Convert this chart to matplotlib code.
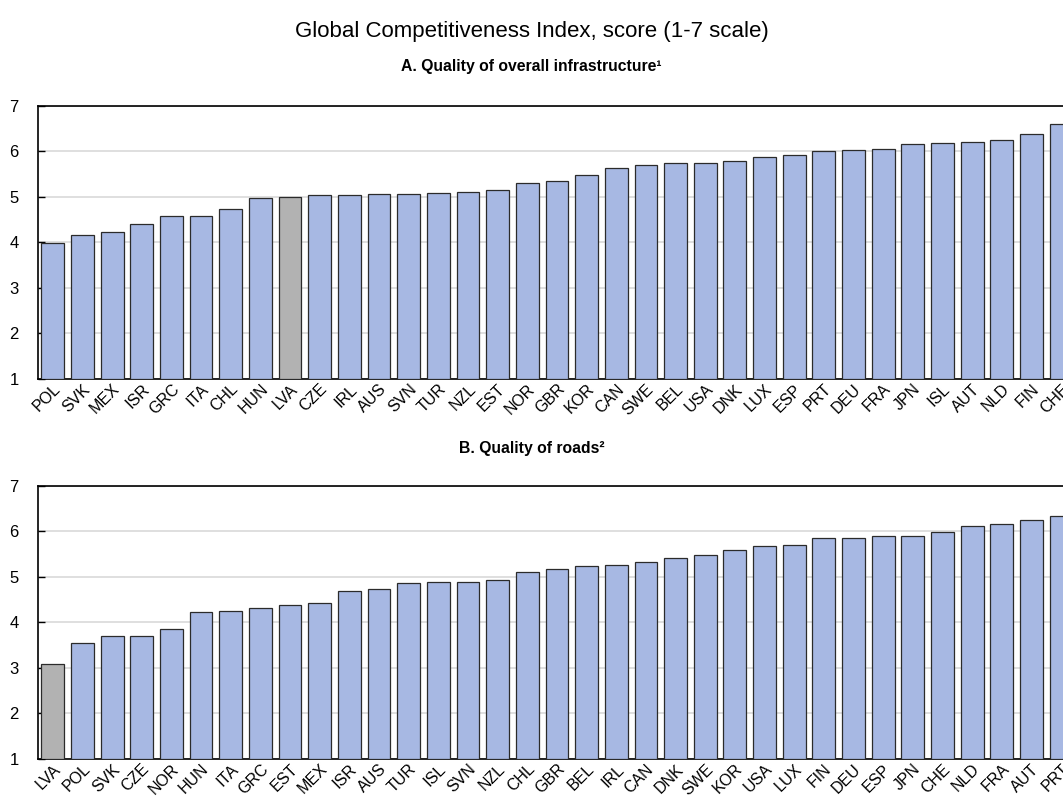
import matplotlib
matplotlib.use("Agg")
import matplotlib.pyplot as plt

plt.rcParams['font.family'] = ['Liberation Sans', 'DejaVu Sans']

countries_a = ["POL", "SVK", "MEX", "ISR", "GRC", "ITA", "CHL", "HUN", "LVA", "CZE",
               "IRL", "AUS", "SVN", "TUR", "NZL", "EST", "NOR", "GBR", "KOR", "CAN",
               "SWE", "BEL", "USA", "DNK", "LUX", "ESP", "PRT", "DEU", "FRA", "JPN",
               "ISL", "AUT", "NLD", "FIN", "CHE"]
values_a = [3.99, 4.16, 4.22, 4.40, 4.57, 4.58, 4.74, 4.98, 5.00, 5.03,
            5.04, 5.06, 5.06, 5.09, 5.11, 5.16, 5.30, 5.34, 5.48, 5.64,
            5.69, 5.75, 5.75, 5.78, 5.87, 5.92, 6.00, 6.02, 6.05, 6.16,
            6.19, 6.20, 6.26, 6.39, 6.60]

countries_b = ["LVA", "POL", "SVK", "CZE", "NOR", "HUN", "ITA", "GRC", "EST", "MEX",
               "ISR", "AUS", "TUR", "ISL", "SVN", "NZL", "CHL", "GBR", "BEL", "IRL",
               "CAN", "DNK", "SWE", "KOR", "USA", "LUX", "FIN", "DEU", "ESP", "JPN",
               "CHE", "NLD", "FRA", "AUT", "PRT"]
values_b = [3.09, 3.54, 3.69, 3.69, 3.85, 4.23, 4.25, 4.31, 4.38, 4.42,
            4.68, 4.74, 4.87, 4.88, 4.89, 4.93, 5.11, 5.17, 5.24, 5.25,
            5.33, 5.42, 5.48, 5.58, 5.68, 5.69, 5.86, 5.86, 5.89, 5.90,
            5.99, 6.12, 6.16, 6.26, 6.33]

highlight = "LVA"
yticks = [1, 2, 3, 4, 5, 6, 7]

BLUE = "#a7b8e3"
GREY = "#b2b2b2"

fig = plt.figure(figsize=(10.63, 7.96), dpi=100)

def panel(rect, cats, vals, subtitle, sub_y):
    ax = fig.add_axes(rect)
    colors = [GREY if c == highlight else BLUE for c in cats]
    ax.bar(range(len(cats)), [v - 1 for v in vals], bottom=1, width=0.77,
           color=colors, edgecolor="#2b2b2b", linewidth=0.9, zorder=3)
    ax.set_xlim(-0.5, len(cats) - 0.5)
    ax.set_ylim(1, 7)
    ax.set_yticks(yticks)
    ax.yaxis.grid(True, color="#d9d9d9", linewidth=1.2, zorder=0)
    ax.set_axisbelow(True)
    ax.tick_params(axis='y', direction='in', length=5, width=1, labelsize=12, pad=14)
    ax.tick_params(axis='x', length=0, labelsize=11.5, pad=2)
    ax.set_xticks(range(len(cats)))
    ax.set_xticklabels(cats, rotation=45, ha='right', rotation_mode='anchor')
    for s in ['left', 'top', 'bottom']:
        ax.spines[s].set_color('black')
        ax.spines[s].set_linewidth(1.2)
    ax.spines['right'].set_visible(False)
    fig.text(0.5, sub_y, subtitle, ha='center', va='center', fontsize=11.3, fontweight='bold')
    return ax

panel([0.0357, 0.5243, 0.9765, 0.3426], countries_a, values_a,
      "A. Quality of overall infrastructure\u00b9", 1 - 67 / 796)
panel([0.0357, 0.0469, 0.9765, 0.3426], countries_b, values_b,
      "B. Quality of roads\u00b2", 1 - 448 / 796)

fig.text(0.5, 1 - 32 / 796, "Global Competitiveness Index, score (1-7 scale)",
         ha='center', va='center', fontsize=16)

fig.savefig("out.png", dpi=100)
